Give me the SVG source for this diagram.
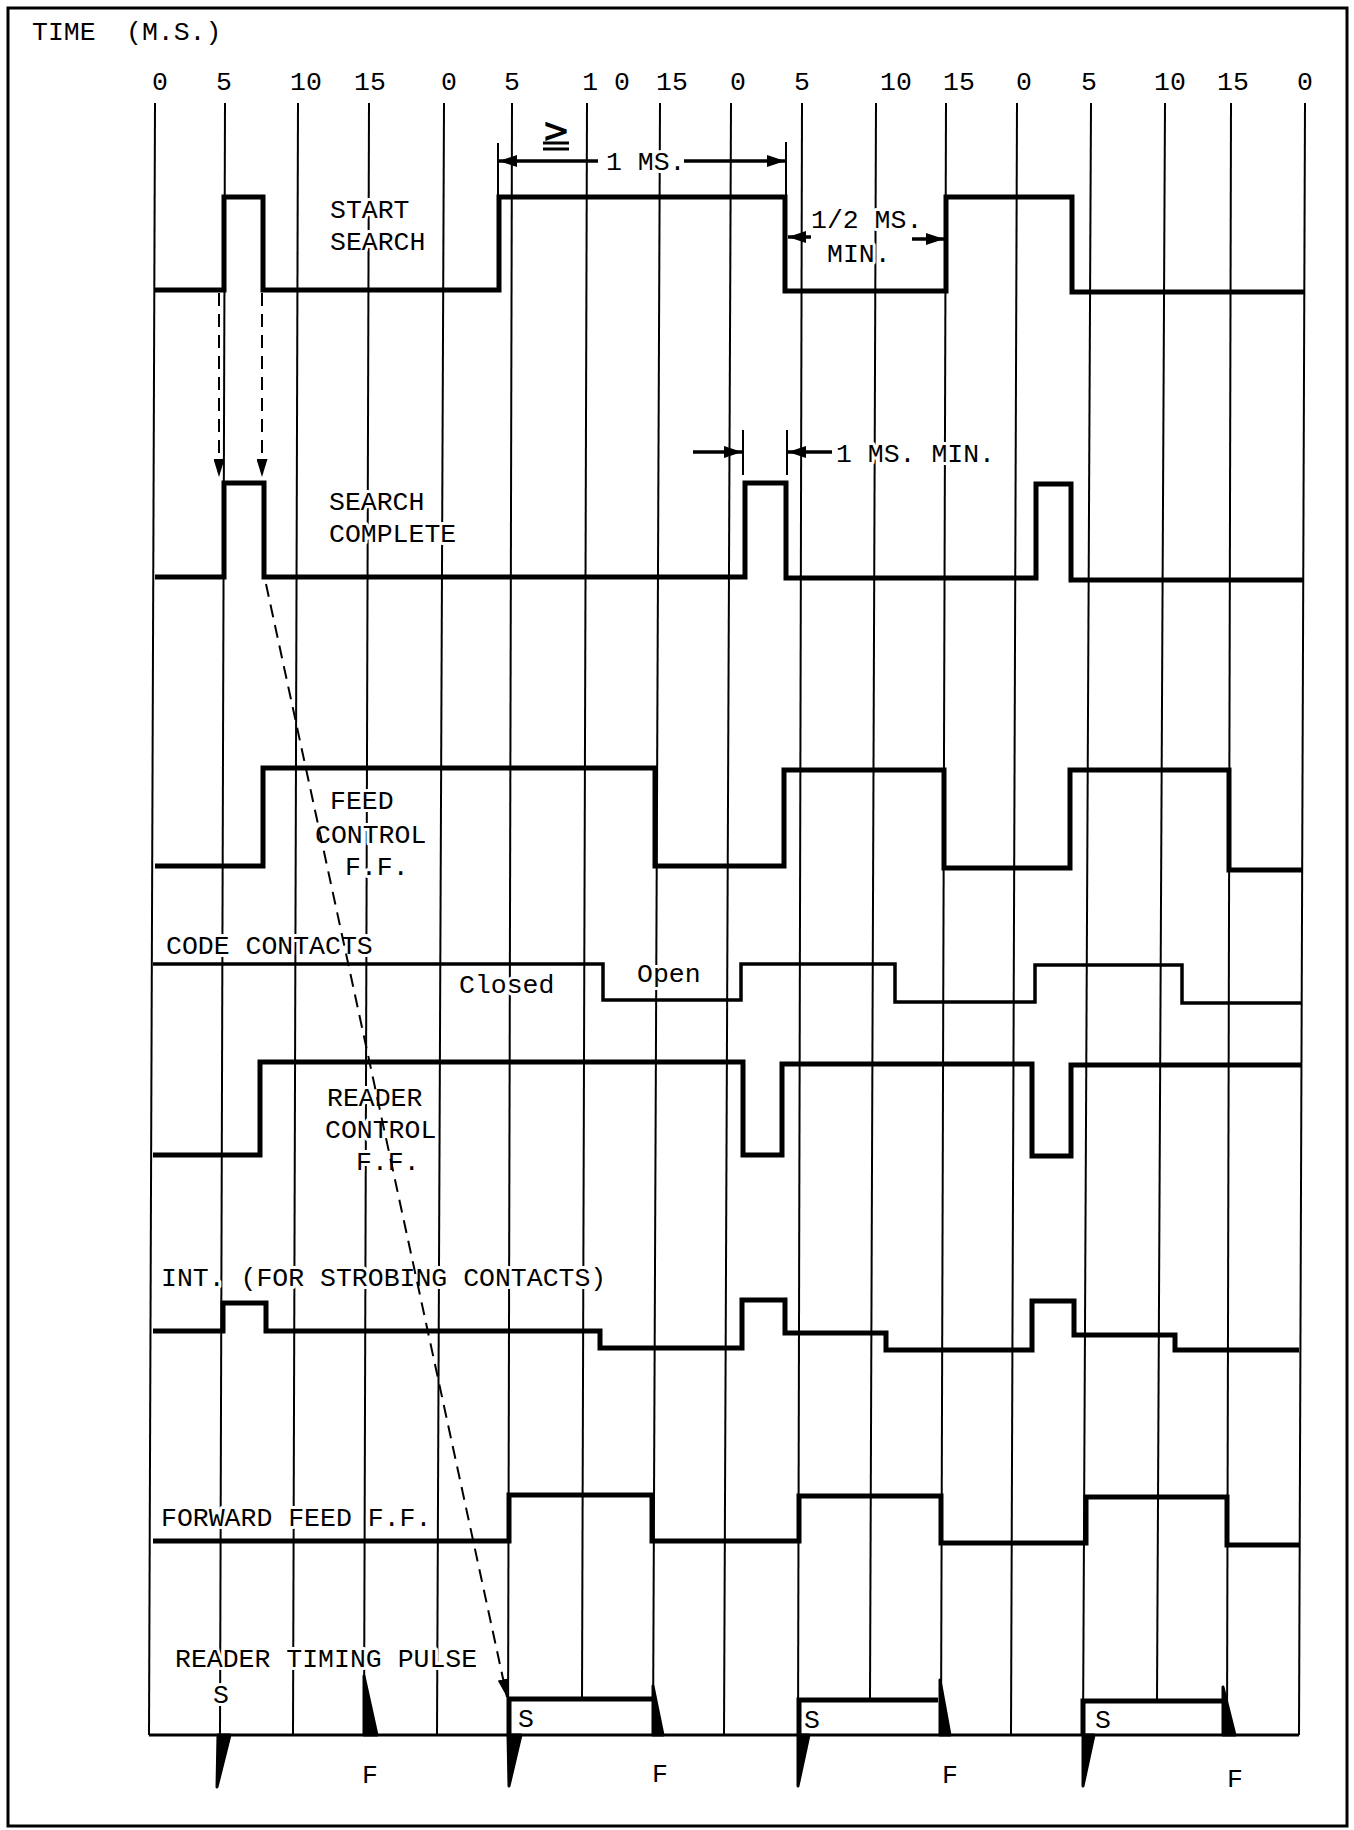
<svg xmlns="http://www.w3.org/2000/svg" width="1354" height="1830" viewBox="0 0 1354 1830">
<defs>
<style>
.t{font-family:"Liberation Mono","Courier New",monospace;font-size:26.5px;fill:#000;stroke:#fff;stroke-width:6px;paint-order:stroke;stroke-linejoin:round}
.d{text-anchor:middle}
.grid{stroke:#000;stroke-width:2;fill:none}
.sig{stroke:#000;stroke-width:5;fill:none;stroke-linejoin:miter}
.sigm{stroke:#000;stroke-width:3.5;fill:none}
.dim{stroke:#000;stroke-width:3.5;fill:none}
.tick{stroke:#000;stroke-width:2;fill:none}
.dash{stroke:#000;stroke-width:2;fill:none;stroke-dasharray:13 8}
.spike{fill:#000;stroke:#000;stroke-width:3;stroke-linejoin:round}
</style>
<marker id="ah" markerUnits="userSpaceOnUse" markerWidth="18" markerHeight="12" refX="18" refY="6" orient="auto"><path d="M0,0 L18,6 L0,12 z" fill="#000"/></marker>
<marker id="ahd" markerUnits="userSpaceOnUse" markerWidth="18" markerHeight="11" refX="18" refY="5.5" orient="auto"><path d="M0,0 L18,5.5 L0,11 z" fill="#000"/></marker>
</defs>
<rect x="0" y="0" width="1354" height="1830" fill="#fff"/>
<rect x="8" y="8" width="1339" height="1818" fill="none" stroke="#000" stroke-width="3"/>

<g id="grid" class="grid">
<line x1="155" y1="103" x2="149" y2="1735"/>
<line x1="225" y1="103" x2="220" y2="1735"/>
<line x1="298" y1="103" x2="293" y2="1735"/>
<line x1="369" y1="103" x2="364" y2="1735"/>
<line x1="444" y1="103" x2="437" y2="1735"/>
<line x1="512" y1="103" x2="508" y2="1735"/>
<line x1="587" y1="103" x2="582" y2="1699"/>
<line x1="660" y1="103" x2="653" y2="1735"/>
<line x1="731" y1="103" x2="724" y2="1735"/>
<line x1="802" y1="103" x2="798" y2="1735"/>
<line x1="876" y1="103" x2="870" y2="1700"/>
<line x1="946" y1="103" x2="941" y2="1735"/>
<line x1="1017" y1="103" x2="1011" y2="1735"/>
<line x1="1091" y1="103" x2="1083" y2="1735"/>
<line x1="1165" y1="103" x2="1157" y2="1701"/>
<line x1="1231" y1="103" x2="1227" y2="1735"/>
<line x1="1305" y1="103" x2="1299" y2="1735"/>
</g>

<g id="time-axis">
<text class="t" x="32" y="40">TIME</text>
<text class="t" x="126" y="40">(M.S.)</text>
<text class="t d" x="160" y="90">0</text>
<text class="t d" x="224" y="90">5</text>
<text class="t d" x="306" y="90">10</text>
<text class="t d" x="370" y="90">15</text>
<text class="t d" x="449" y="90">0</text>
<text class="t d" x="512" y="90">5</text>
<text class="t d" x="606" y="90">1 0</text>
<text class="t d" x="672" y="90">15</text>
<text class="t d" x="738" y="90">0</text>
<text class="t d" x="802" y="90">5</text>
<text class="t d" x="896" y="90">10</text>
<text class="t d" x="959" y="90">15</text>
<text class="t d" x="1024" y="90">0</text>
<text class="t d" x="1089" y="90">5</text>
<text class="t d" x="1170" y="90">10</text>
<text class="t d" x="1233" y="90">15</text>
<text class="t d" x="1305" y="90">0</text>
</g>

<g id="start-search">
<path class="sig" d="M155,290 H224 V197 H263 V290 H499 V197 H785 V291 H946 V197 H1072 V292 H1305"/>
<text class="t" x="330" y="218">START</text>
<text class="t" x="330" y="250">SEARCH</text>
</g>

<g id="dim-1ms">
<line class="tick" x1="498" y1="143" x2="498" y2="197"/>
<line class="tick" x1="786" y1="142" x2="786" y2="197"/>
<line class="dim" x1="598" y1="161" x2="499" y2="161" marker-end="url(#ah)"/>
<line class="dim" x1="684" y1="161" x2="785" y2="161" marker-end="url(#ah)"/>
<text x="556" y="142" text-anchor="middle" font-family="'DejaVu Sans', sans-serif" font-weight="bold" font-size="34" fill="#000">&gt;</text>
<line x1="543" y1="143" x2="569" y2="143" stroke="#000" stroke-width="3"/>
<line x1="543" y1="149" x2="569" y2="149" stroke="#000" stroke-width="3"/>
<text class="t" x="606" y="170">1 MS.</text>
</g>

<g id="dim-half-ms">
<line class="dim" x1="811" y1="237" x2="788" y2="237" marker-end="url(#ah)"/>
<line class="dim" x1="912" y1="239" x2="944" y2="239" marker-end="url(#ah)"/>
<text class="t" x="811" y="228">1/2 MS.</text>
<text class="t" x="827" y="262">MIN.</text>
</g>

<g id="search-complete">
<path class="sig" d="M155,577 H224 V483 H264 V577 H745 V483 H786 V578 H1036 V484 H1071 V580 H1303"/>
<text class="t" x="329" y="510">SEARCH</text>
<text class="t" x="329" y="542">COMPLETE</text>
</g>

<g id="dim-1ms-min">
<line class="tick" x1="743" y1="430" x2="743" y2="475"/>
<line class="tick" x1="787" y1="430" x2="787" y2="475"/>
<line class="dim" x1="693" y1="452" x2="742" y2="452" marker-end="url(#ah)"/>
<line class="dim" x1="832" y1="452" x2="788" y2="452" marker-end="url(#ah)"/>
<text class="t" x="836" y="462">1 MS. MIN.</text>
</g>

<g id="feed-control">
<path class="sig" d="M155,866 H263 V768 H655 V866 H784 V770 H944 V868 H1070 V770 H1229 V870 H1303"/>
<text class="t" x="330" y="809">FEED</text>
<text class="t" x="315" y="843">CONTROL</text>
<text class="t" x="345" y="875">F.F.</text>
</g>

<g id="code-contacts">
<path class="sigm" d="M153,964 H603 V1000 H741 V964 H895 V1002 H1035 V965 H1182 V1003 H1301"/>
<text class="t" x="166" y="954">CODE CONTACTS</text>
<text class="t" x="459" y="993">Closed</text>
<text class="t" x="637" y="982">Open</text>
</g>

<g id="reader-control">
<path class="sig" d="M153,1155 H260 V1062 H743 V1155 H782 V1064 H1032 V1156 H1071 V1065 H1301"/>
<text class="t" x="327" y="1106">READER</text>
<text class="t" x="325" y="1138">CONTROL</text>
<text class="t" x="356" y="1170">F.F.</text>
</g>

<g id="int">
<path class="sig" d="M153,1331 H223 V1303 H266 V1331 H600 V1348 H742 V1300 H785 V1333 H886 V1350 H1032 V1301 H1074 V1335 H1175 V1350 H1299"/>
<text class="t" x="161" y="1286">INT. (FOR STROBING CONTACTS)</text>
</g>

<g id="forward-feed">
<path class="sig" d="M153,1541 H509 V1495 H652 V1541 H799 V1496 H941 V1543 H1086 V1497 H1227 V1545 H1299"/>
<text class="t" x="161" y="1526">FORWARD FEED F.F.</text>
</g>

<g id="reader-timing-pulse">
<line x1="149" y1="1735" x2="1299" y2="1735" stroke="#000" stroke-width="3"/>
<path class="sig" d="M509,1735 V1699 H653"/>
<path class="sig" d="M799,1735 V1700 H938"/>
<path class="sig" d="M1083,1735 V1701 H1223"/>
<polygon class="spike" points="218,1735 230,1735 217,1787"/>
<polygon class="spike" points="508,1735 521,1735 509,1786"/>
<polygon class="spike" points="798,1735 809,1735 798,1786"/>
<polygon class="spike" points="1083,1735 1094,1735 1083,1786"/>
<polygon class="spike" points="364,1676 364,1735 377,1735"/>
<polygon class="spike" points="653,1686 653,1735 663,1735"/>
<polygon class="spike" points="940,1680 940,1735 950,1735"/>
<polygon class="spike" points="1223,1687 1223,1735 1235,1735"/>
<text class="t" x="175" y="1667">READER TIMING PULSE</text>
<text class="t" x="213" y="1703">S</text>
<text class="t" x="518" y="1727">S</text>
<text class="t" x="804" y="1728">S</text>
<text class="t" x="1095" y="1728">S</text>
<text class="t d" x="370" y="1783">F</text>
<text class="t d" x="660" y="1782">F</text>
<text class="t d" x="950" y="1783">F</text>
<text class="t d" x="1235" y="1787">F</text>
</g>

<g id="connectors">
<line class="dash" x1="219" y1="293" x2="219" y2="477" marker-end="url(#ahd)"/>
<line class="dash" x1="262" y1="293" x2="262" y2="477" marker-end="url(#ahd)"/>
<line class="dash" x1="266" y1="584" x2="507" y2="1697" marker-end="url(#ahd)"/>
</g>
</svg>
